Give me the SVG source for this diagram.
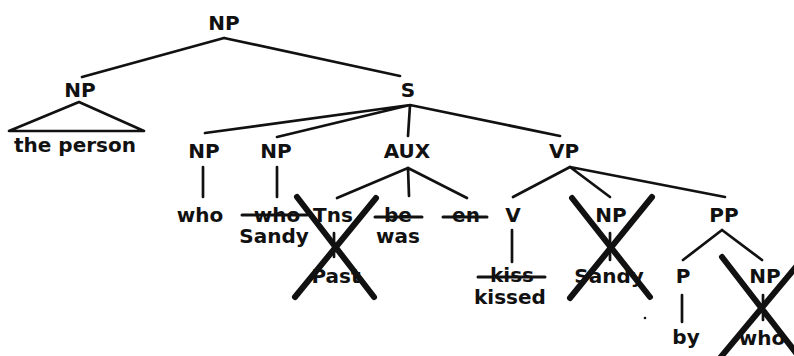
<svg xmlns="http://www.w3.org/2000/svg" width="794" height="356" viewBox="0 0 794 356">
<style>
text{font-family:"DejaVu Sans","Liberation Sans",sans-serif;font-weight:bold;font-size:20px;fill:#111;text-anchor:middle}
.e{stroke:#111;stroke-width:2.7;fill:none;stroke-linecap:round;stroke-linejoin:round}
.x{stroke:#111;stroke-width:6;fill:none;stroke-linecap:round}
.s{stroke:#111;stroke-width:3;stroke-linecap:round}
</style>
<rect width="794" height="356" fill="#fff"/>
<g id="connectors">
<path class="e" d="M224,38L82,77M224,38L400,76"/>
<path class="e" d="M79,102L9,131L144,131Z"/>
<path class="e" d="M410,105L205,133M410,105L277,137M410,105L408,136M410,105L560,136"/>
<path class="e" d="M203,167V197M277,167V197"/>
<path class="e" d="M408,168L337,198M408,168L409,196M408,168L467,198"/>
<path class="e" d="M334,233V257"/>
<path class="e" d="M570,167L513,197M570,167L610,197M570,167L725,197"/>
<path class="e" d="M512,230V262M610,233V260"/>
<path class="e" d="M722,230L683,260M722,230L762,260"/>
<path class="e" d="M682,295V322M763,295V320"/>
</g>
<g id="np-root"><text x="224" y="30">NP</text></g>
<g id="np-head"><text x="80" y="97">NP</text></g>
<g id="the-person"><text x="75" y="152">the person</text></g>
<g id="s"><text x="408" y="97">S</text></g>
<g id="np-who"><text x="204" y="158">NP</text></g>
<g id="np-subj"><text x="276" y="158">NP</text></g>
<g id="aux"><text x="407" y="158">AUX</text></g>
<g id="vp"><text x="564" y="158">VP</text></g>
<g id="who1"><text x="200" y="222">who</text></g>
<g id="who2"><text x="277" y="222">who</text><line class="s" x1="242" y1="215" x2="307" y2="215"/><text x="274" y="243">Sandy</text></g>
<g id="tns"><text x="333" y="222">Tns</text></g>
<g id="past"><text x="336" y="283">Past</text></g>
<g id="be"><text x="398" y="222">be</text><line class="s" x1="375" y1="217" x2="422" y2="217"/><text x="398" y="243">was</text></g>
<g id="en"><text x="466" y="222">en</text><line class="s" x1="443" y1="217" x2="487" y2="217"/></g>
<g id="v"><text x="513" y="222">V</text></g>
<g id="kiss"><text x="512" y="282">kiss</text><line class="s" x1="478" y1="277" x2="545" y2="277"/><text x="510" y="304">kissed</text></g>
<g id="np-obj"><text x="611" y="222">NP</text></g>
<g id="sandy-obj"><text x="609" y="283">Sandy</text></g>
<g id="pp"><text x="724" y="222">PP</text></g>
<g id="p"><text x="683" y="283">P</text></g>
<g id="by"><text x="686" y="344">by</text></g>
<g id="np-by"><text x="765" y="283">NP</text></g>
<g id="who3"><text x="762" y="345">who</text></g>
<g id="crosses">
<path class="x" d="M297,197L374,297M376,198L295,297"/>
<path class="x" d="M572,198L650,297M652,197L570,298"/>
<path class="x" d="M722,257L800,358M720,358L800,262"/>
<circle cx="645" cy="318" r="1.3" fill="#111"/>
</g>
</svg>
